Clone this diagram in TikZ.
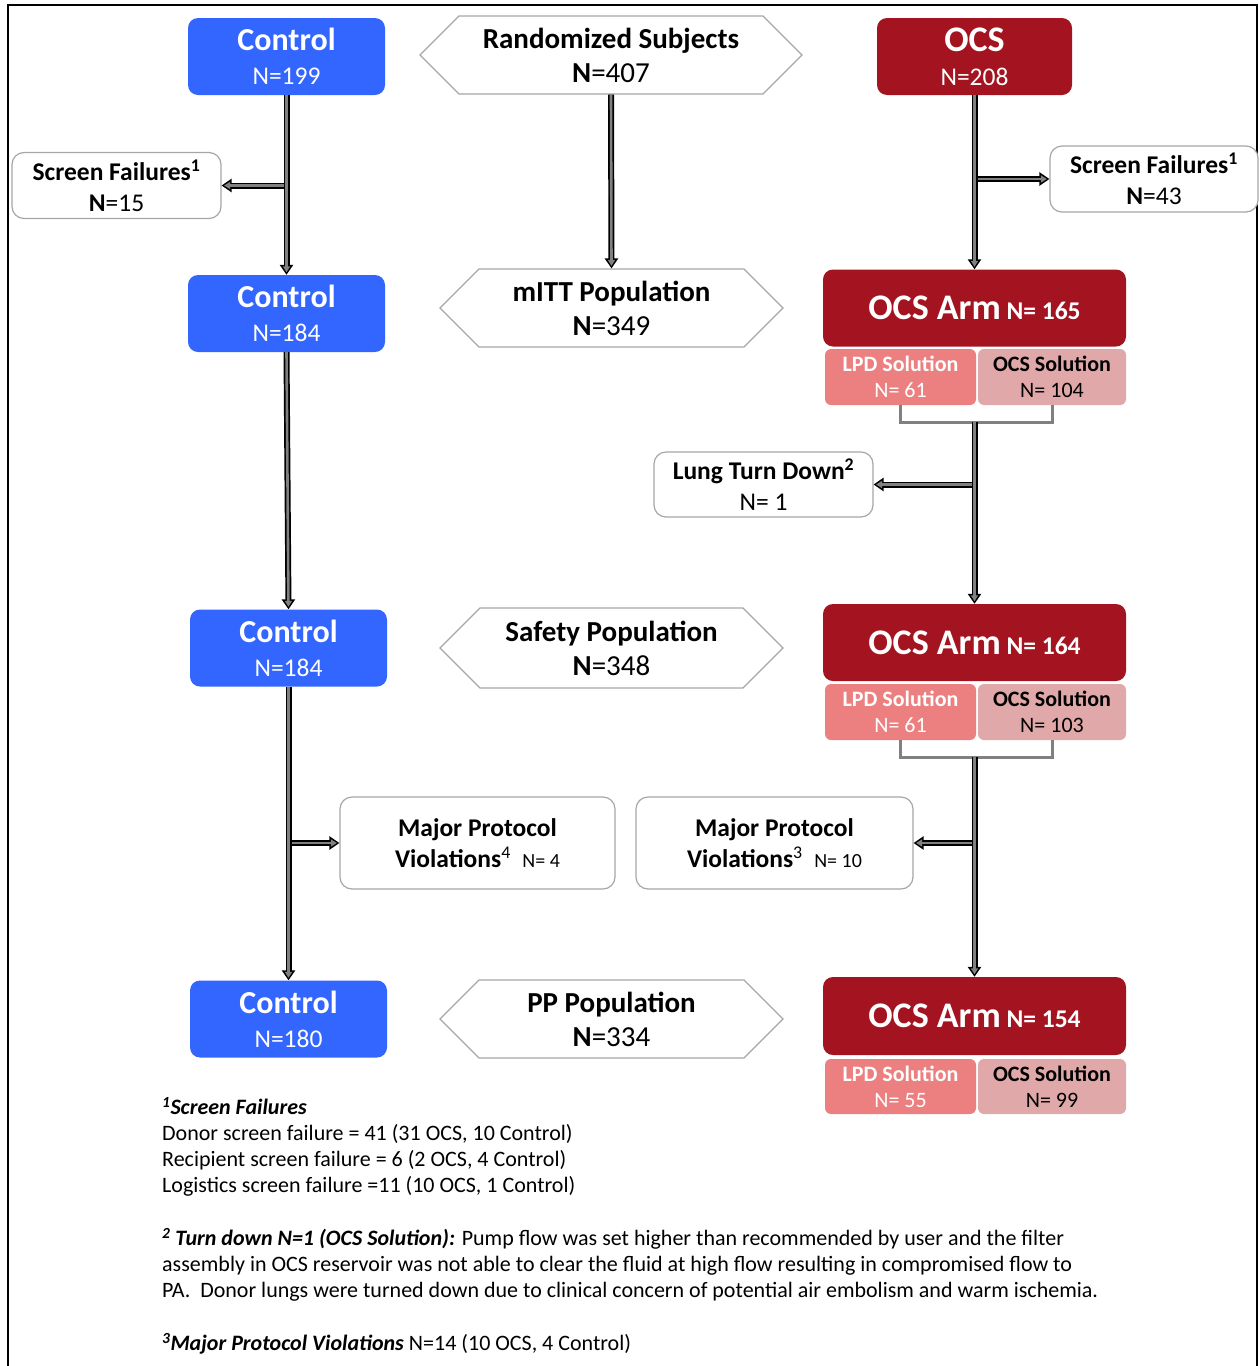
\documentclass[tikz,border=0pt]{standalone}
\usepackage{fontspec}
\setmainfont{Carlito}
\usepackage{xcolor}
\usepackage{tikz}
\usetikzlibrary{arrows.meta, shapes.symbols, calc}

\definecolor{ctrlblue}{RGB}{51,102,255}
\definecolor{ocsred}{RGB}{163,20,32}
\definecolor{lpdpink}{RGB}{236,128,128}
\definecolor{solpink}{RGB}{224,168,168}
\newcommand{\fsz}[1]{\fontsize{#1}{#1}\selectfont}

\begin{document}
\begin{tikzpicture}[x=1pt, y=-1pt,
  ctrl/.style={fill=ctrlblue, text=white, rounded corners=10pt, inner sep=0pt,
    minimum width=197pt, minimum height=77pt, align=center,
    font=\fontsize{25.5}{34}\selectfont},
  ocs/.style={fill=ocsred, text=white, rounded corners=10pt, inner sep=0pt,
    minimum width=303pt, minimum height=77pt, align=center,
    font=\bfseries\fontsize{25.5}{34}\selectfont},
  lpd/.style={fill=lpdpink, text=white, rounded corners=6pt, inner sep=0pt,
    minimum width=151pt, minimum height=56pt, align=center,
    font=\fontsize{22}{26}\selectfont},
  sol/.style={lpd, fill=solpink, text=black, minimum width=148pt},
  hexa/.style={signal, signal to=west and east, signal pointer angle=90,
    draw=gray!70, line width=1.2pt, fill=white, inner sep=0pt,
    minimum width=343pt, minimum height=78pt, align=center,
    font=\fontsize{29}{34}\selectfont},
  sidebox/.style={draw=gray!70, line width=1.2pt, fill=white, rounded corners=12pt,
    inner sep=0pt, align=center, font=\fontsize{25.5}{31}\selectfont},
  flow/.style={draw=black, line width=6pt, -{Triangle[length=10pt,width=13pt]},
    postaction={draw=gray, line width=2.6pt, -{Triangle[length=6pt,width=7pt]}, shorten >=2.5pt}},
  bracket/.style={draw=gray, line width=3pt}
]
  \useasboundingbox (0,0) rectangle (1259,1366);

  % Cadre
  \draw[line width=2pt] (8,1366) -- (8,5) -- (1257,5) -- (1257,1366);

  % Bras Control
  \node[ctrl] (C1) at (286.5,56.5) {{\bfseries\fontsize{32}{34}\selectfont Control}\\N=199};
  \node[ctrl] (C2) at (286.5,313.5) {{\bfseries\fontsize{32}{34}\selectfont Control}\\N=184};
  \node[ctrl] (C3) at (288.5,648) {{\bfseries\fontsize{32}{34}\selectfont Control}\\N=184};
  \node[ctrl] (C4) at (288.5,1019) {{\bfseries\fontsize{32}{34}\selectfont Control}\\N=180};

  % Populations
  \node[hexa, minimum width=382pt] (H1) at (611,55) {\textbf{Randomized Subjects}\\\textbf{N}=407};
  \node[hexa] (H2) at (611.5,308) {\textbf{mITT Population}\\\textbf{N}=349};
  \node[hexa, minimum height=80pt] (H3) at (611.5,648) {\textbf{Safety Population}\\\textbf{N}=348};
  \node[hexa] (H4) at (611.5,1019) {\textbf{PP Population}\\\textbf{N}=334};

  % Bras OCS
  \node[ocs, minimum width=195pt] (O1) at (974.5,56.5) {{\fontsize{36}{35}\selectfont OCS}\\\mdseries N=208};
  \node[ocs] (O2) at (974.5,308) {{\fsz{36}OCS Arm} N= 165};
  \node[lpd] (L1) at (900.5,377) {\textbf{LPD Solution}\\N= 61};
  \node[sol] (S1) at (1052,377) {\textbf{OCS Solution}\\N= 104};
  \node[ocs] (O3) at (974.5,642.5) {{\fsz{36}OCS Arm} N= 164};
  \node[lpd] (L2) at (900.5,712) {\textbf{LPD Solution}\\N= 61};
  \node[sol] (S2) at (1052,712) {\textbf{OCS Solution}\\N= 103};
  \node[ocs, minimum height=78pt] (O4) at (974.5,1016) {{\fsz{36}OCS Arm} N= 154};
  \node[lpd, minimum height=55pt] (L3) at (900.5,1086.5) {\textbf{LPD Solution}\\N= 55};
  \node[sol, minimum height=55pt] (S3) at (1052,1086.5) {\textbf{OCS Solution}\\N= 99};

  % Sorties
  \node[sidebox, minimum width=209pt, minimum height=66pt] (SFL) at (116.5,185.5)
      {\textbf{Screen Failures\textsuperscript{1}}\\\textbf{N}=15};
  \node[sidebox, minimum width=208pt, minimum height=66pt] (SFR) at (1154,179)
      {\textbf{Screen Failures\textsuperscript{1}}\\\textbf{N}=43};
  \node[sidebox, minimum width=219pt, minimum height=65pt] (LTD) at (763.5,484.5)
      {\textbf{Lung Turn Down\textsuperscript{2}}\\N= 1};
  \node[sidebox, minimum width=275pt, minimum height=92pt] (MPVL) at (477.5,843)
      {\textbf{Major Protocol}\\\textbf{Violations}\textsuperscript{4}\ \ {\fsz{20}N= 4}};
  \node[sidebox, minimum width=277pt, minimum height=92pt] (MPVR) at (774.5,843)
      {\textbf{Major Protocol}\\\textbf{Violations}\textsuperscript{3}\ \ {\fsz{20}N= 10}};

  % Accolades sous les solutions
  \coordinate (br1) at ($(L1.south)+(0,17)$);
  \coordinate (br2) at ($(L2.south)+(0,17)$);
  \draw[bracket] (L1.south) -- (br1) -| (S1.south);
  \draw[bracket] (L2.south) -- (br2) -| (S2.south);

  % Flux
  \draw[flow] (C1.south |- SFL.east) -- (SFL.east);
  \draw[flow] (O1.south |- SFR.west) -- (SFR.west);
  \draw[flow] (O3.north |- LTD.east) -- (LTD.east);
  \draw[flow] (C3.south |- MPVL.west) -- (MPVL.west);
  \draw[flow] (O4.north |- MPVR.east) -- (MPVR.east);
  \draw[flow] (C1.south) -- (C2.north);
  \draw[flow] (H1.south) -- (H2.north);
  \draw[flow] (O1.south) -- (O2.north);
  \draw[flow] (C2.south) -- (C3.north);
  \draw[flow] (br1 -| O3.north) -- (O3.north);
  \draw[flow] (C3.south) -- (C4.north);
  \draw[flow] (br2 -| O4.north) -- (O4.north);

  % Notes
  \node[anchor=north west, align=left, inner sep=0pt, font=\fontsize{22}{26}\selectfont] (notes) at (162,1097) {
    \textbf{\textit{\textsuperscript{1}Screen Failures}}\\
    Donor screen failure = 41 (31 OCS, 10 Control)\\
    Recipient screen failure = 6 (2 OCS, 4 Control)\\
    Logistics screen failure =11 (10 OCS, 1 Control)\\[27pt]
    \textbf{\textit{\textsuperscript{2} Turn down N=1 (OCS Solution):}} Pump flow was set higher than recommended by user and the filter\\
    assembly in OCS reservoir was not able to clear the fluid at high flow resulting in compromised flow to\\
    PA.\ \ Donor lungs were turned down due to clinical concern of potential air embolism and warm ischemia.\\[27pt]
    \textbf{\textit{\textsuperscript{3}Major Protocol Violations}} N=14 (10 OCS, 4 Control)
  };
\end{tikzpicture}
\end{document}
